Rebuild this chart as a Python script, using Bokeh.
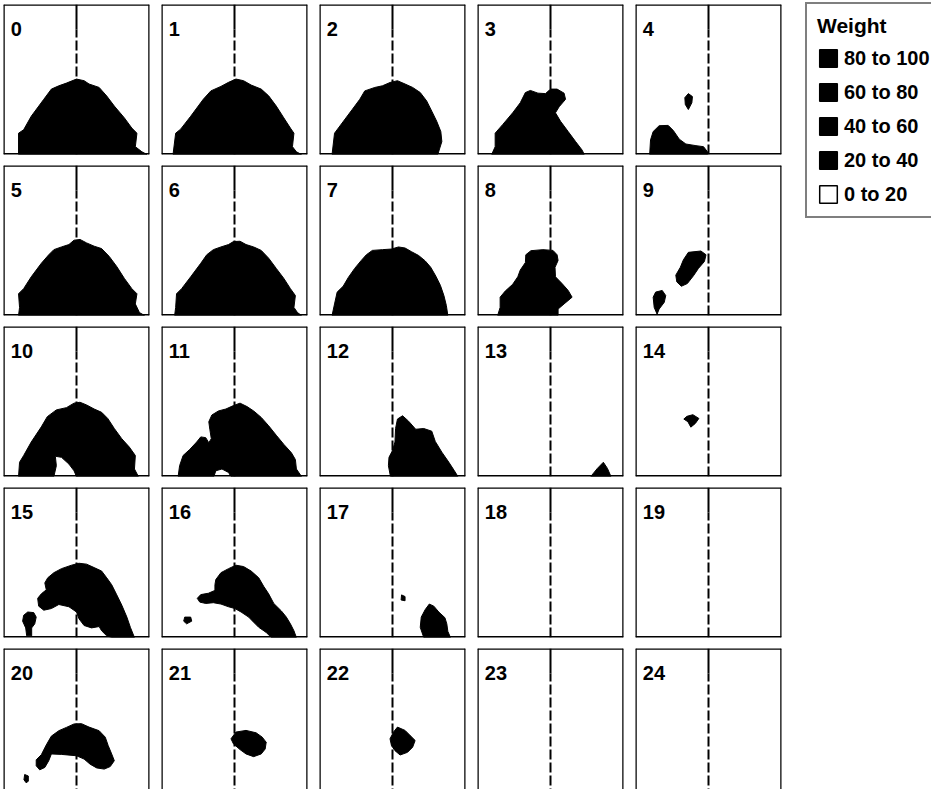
from bokeh.plotting import figure
from bokeh.layouts import row, column
from bokeh.models import Span, Legend, LegendItem, Range1d, Label
from bokeh.embed import file_html
from bokeh.resources import INLINE

FONT = "Liberation Sans"

# ---- data: outlines of the regions with weight >= 20, per panel,
# x in percent of panel width (centre line at 50), y in percent of panel height
P00 = [[(10.3, 0), (10.3, 14.2), (13.8, 16.5), (19, 25.5), (27.6, 36.8), (32.8, 43.6), (37.9, 45.8),
        (43.1, 47.6), (50, 50.3), (55.2, 49.2), (58.6, 47), (65.5, 44.7), (70.7, 39), (75.9, 32.3),
        (82.8, 24.4), (87.9, 17.6), (91.4, 14.2), (90.3, 5.2), (94.8, 1.8), (98.3, 0)]]
P01 = [[(7.9, 0), (9.7, 14.2), (13.1, 16.9), (20, 25.5), (28.6, 36.8), (33.8, 42.4), (40.7, 45.4),
        (45.9, 48.1), (51, 50.3), (56.2, 49.2), (61.4, 46.3), (68.3, 43.6), (73.4, 39.1), (78.6, 32.3),
        (83.8, 24.4), (88.3, 17.6), (90.7, 14.2), (89.7, 5.2), (92.4, 1.8), (95.9, 0)]]
P02 = [[(8.6, 0), (10.3, 14.2), (15.5, 21), (22.4, 30), (27.6, 36.8), (31, 42.4), (37.9, 44.7),
        (43.1, 45.8), (48.3, 48), (53.4, 49.2), (58.6, 47), (63.8, 44.7), (69, 41.3), (73.4, 35.7),
        (76.9, 28.9), (80.3, 22.1), (83.1, 15.3), (83.8, 8.6), (81, 0)]]
P03 = [[(9.7, 0), (12.1, 5.2), (12.1, 14.2), (17.2, 19.9), (24.1, 27.8), (29.3, 34.5), (32.8, 41.3),
        (36.2, 42.7), (41.4, 40.9), (46.6, 40.6), (50, 43.6), (54.5, 43.6), (59.3, 40.9), (60.3, 36.8),
        (55.9, 31.8), (53.4, 27.8), (56.9, 22.1), (62.1, 15.3), (67.2, 8.6), (71.7, 2.9), (73.1, 0)]]
P04 = [[(9.7, 0), (10.3, 9.7), (12.1, 15.3), (16.2, 19.2), (22.4, 19.4), (25.9, 16), (30, 10.2),
        (34.5, 7), (41.4, 5.9), (46.6, 5.2), (49.3, 1.8), (49.3, 0)],
       [(36.2, 40.6), (39, 38.6), (38.6, 34.5), (36.2, 30), (34.1, 33.4), (33.8, 37.9)]]
P05 = [[(10.3, 0), (11, 5.4), (10.3, 14.5), (13.8, 17.9), (19, 25.8), (25.9, 34.8), (31, 40.5),
        (34.5, 43.9), (39.7, 45.7), (44.8, 47.3), (48.3, 50.2), (52.4, 50.7), (56.9, 48.4), (62.1, 46.2),
        (67.2, 44.6), (72.4, 39.4), (77.6, 32.6), (82.8, 24.7), (87.9, 17.9), (91.4, 14.5), (90.3, 7.7),
        (93.1, 2), (96.6, 0)]]
P06 = [[(9, 0), (9.7, 5.4), (10.3, 14.5), (13.8, 17.9), (20, 25.8), (26.9, 34.8), (31, 40.5),
        (35.5, 43.9), (40.7, 45.7), (45.9, 47.3), (49.3, 49.3), (53.8, 49.5), (57.9, 47.3), (63.1, 45.7),
        (68.3, 43.4), (73.4, 38.2), (78.6, 31.4), (83.8, 24.7), (88.3, 17.9), (91.7, 13.3), (90.7, 5.4),
        (93.1, 2), (95.9, 0)]]
P07 = [[(8.6, 0), (10.3, 7.7), (12.1, 15.6), (16.2, 19.5), (19.7, 25.3), (24.1, 31.4), (28.6, 36.7),
        (32.1, 40.5), (36.2, 43.4), (43.1, 43.9), (49.3, 44.3), (54.1, 45.7), (58.6, 45), (63.1, 42.5),
        (67.9, 40), (72.4, 36.4), (76.2, 32.1), (79.7, 26.2), (82.8, 20.1), (85.2, 13.3), (86.9, 6.6),
        (87.9, 0)]]
P08 = [[(13.8, 0), (15.5, 5.4), (15.5, 12.2), (19, 16.3), (24.1, 20.8), (27.6, 25.8), (29.3, 30.3),
        (32.8, 35.3), (33.1, 40.5), (36.6, 43.2), (44.8, 43.9), (51.7, 43.4), (54.5, 40.5), (55.2, 36.7),
        (53.1, 32.1), (53.4, 25.8), (57.9, 21.3), (62.1, 16.7), (64.8, 12.2), (59.3, 7.7), (55.2, 4.3),
        (55.2, 0)]]
P09 = [[(36.2, 42.1), (44.8, 43), (48.3, 40.5), (47.2, 36), (43.1, 31.4), (39.7, 26.5), (35.5, 21.3),
        (31.4, 19.5), (28.3, 22.4), (27.6, 26.9), (30.7, 32.1), (32.8, 37.1)],
       [(13.8, 15.6), (18.3, 16.7), (20.7, 13.3), (19.7, 8.8), (16.2, 4.3), (14.8, 0.9), (12.8, 5.4),
        (12.1, 12.2)]]
P10 = [[(10.3, 0), (11, 9.5), (13.8, 14), (19, 23), (25.9, 33.1), (30, 39.9), (36.2, 44.4), (43.1, 45.9),
        (48.3, 48.9), (52.4, 49.5), (56.9, 47.7), (62.1, 45), (67.2, 42.8), (71.4, 38.7), (75.9, 32),
        (81, 25.2), (86.2, 19.6), (90.3, 14), (89.7, 5), (92.4, 0), (50, 0), (48.3, 3.8), (44.8, 8.3),
        (39.7, 12.8), (35.5, 13.5), (36.2, 7.2), (34.5, 0)]]
P11 = [[(11.4, 0), (12.4, 7.2), (14.8, 14), (19.3, 18), (24.1, 23), (26.9, 26.4), (30.3, 25.9),
        (32.4, 22.5), (34.1, 25.2), (33.1, 31.5), (32.4, 36.5), (34.5, 41), (39, 43.7), (44.1, 45),
        (49.3, 47.3), (53.8, 48.9), (58.6, 46.6), (63.1, 43.7), (68.3, 39.4), (73.4, 33.8), (78.6, 27.5),
        (83.8, 21.4), (89, 15.8), (91.7, 11.3), (92.4, 5), (95.9, 0), (47.6, 0), (45.9, 2.7), (41.4, 5),
        (37.2, 3.8), (35.9, 0)]]
P12 = [[(48.6, 0), (47.2, 7.2), (47.6, 12.8), (50, 17.3), (51.7, 23), (52.1, 32), (53.4, 38.3),
        (56.9, 40.5), (61, 36.9), (65.9, 31.5), (71.4, 32), (76.9, 30.2), (79.3, 23.4), (83.8, 16.2),
        (88.6, 9.5), (92.4, 3.8), (94.8, 0)]]
P13 = [[(77.6, 0), (82.1, 5.4), (86.2, 9.5), (89, 5.4), (91.4, 0)]]
P14 = [[(35.2, 40.1), (39.3, 41.2), (43.4, 38.7), (41, 35.4), (37.9, 32.9), (35.9, 36.5), (33.1, 38.3)]]
P15 = [[(89.7, 0), (86.9, 6.8), (84.5, 13.6), (81, 21.6), (77.6, 28.4), (74.1, 35.2), (70.7, 39.8),
        (67.2, 44.3), (62.1, 46.6), (56.9, 48.9), (51.7, 49.5), (46.6, 48.2), (39.7, 45.9), (34.5, 43.2),
        (30.3, 39.8), (28.3, 36.4), (29.3, 31.8), (25.9, 29.1), (23.4, 26.1), (24.1, 20.9), (27.6, 18.2),
        (32.8, 19.3), (37.9, 22), (44.8, 20.5), (50, 17), (51.7, 12.5), (55.2, 8), (60.3, 6.4),
        (65.5, 7.3), (67.2, 4.5), (70.7, 1.1), (74.1, 0)],
       [(13.8, 14.8), (16.6, 17), (20.7, 16.6), (22.4, 13.6), (21.4, 9.1), (19.3, 6.4), (19.3, 1.1),
        (15.9, 1.1), (15.2, 6.4), (13.1, 10.9)]]
P16 = [[(37.2, 38.6), (40.7, 43.2), (45.9, 45.9), (51, 48.2), (56.2, 47.3), (61.4, 44.3), (66.6, 39.8),
        (70, 34.1), (73.4, 29.1), (76.9, 22.7), (82.1, 17.7), (85.5, 13.6), (88.3, 9.1), (90.7, 4.5),
        (92.4, 0), (75.2, 0), (71.7, 3.4), (66.6, 6.8), (63.1, 10.2), (59.7, 13.6), (54.5, 17),
        (50.3, 19.3), (45.9, 20.5), (40.7, 22.3), (35.5, 23.2), (30.3, 22.7), (26.2, 23.6), (24.5, 26.1),
        (26.9, 28.6), (32.1, 29.5), (36.6, 31.4), (36.6, 35.2)],
       [(15.9, 13.6), (20, 13.6), (20.7, 10.9), (17.2, 9.1), (15.2, 10.9)]]
P17 = [[(71.4, 0), (69, 6.8), (69.7, 13.6), (72.4, 18.6), (75.2, 22.3), (78.3, 20.9), (81.7, 17),
        (85.9, 13.2), (87.2, 9.1), (87.9, 4.1), (89.7, 0)],
       [(56.2, 28.4), (58.6, 27.3), (58.6, 24.5), (55.9, 25)]]
P18 = []
P19 = []
P20 = [[(22.4, 25.8), (25.9, 29.2), (29.3, 35.7), (32.8, 41.6), (37.9, 45.2), (43.1, 47.4), (48.3, 49.7),
        (53.4, 49.9), (58.6, 47.6), (65.5, 45.2), (69.7, 40.9), (71.7, 35.3), (74.1, 29.7), (75.9, 25.2),
        (73.1, 21.3), (69, 19.6), (63.8, 20.4), (59.3, 22.9), (55.2, 26.3), (50, 28.5), (39.7, 29.4),
        (32.8, 29.7), (31, 25.2), (28.3, 20.7), (24.8, 19.1), (22.4, 21.8)],
       [(14.5, 16), (17, 15), (17, 11.5), (15.5, 10.5), (14, 12.5)]]
P21 = [[(51, 44.3), (57.9, 45.4), (64.8, 43.8), (69, 40.9), (71.7, 37.5), (71, 33), (68.3, 29.7),
        (63.1, 27.9), (57.9, 29.7), (53.8, 32.6), (49.3, 36.4), (47.6, 39.8)]]
P22 = [[(53.4, 47.6), (58.6, 45.4), (62.1, 42), (65.5, 38.7), (63.8, 34.2), (60.3, 30.8), (55.2, 29),
        (51.7, 31.9), (49.3, 35.3), (48.3, 39.8), (50.7, 44.3)]]
P23 = []
P24 = []

PANELS = [P00, P01, P02, P03, P04, P05, P06, P07, P08, P09, P10, P11, P12, P13, P14,
          P15, P16, P17, P18, P19, P20, P21, P22, P23, P24]
PANEL_LABELS = ["0", "1", "2", "3", "4", "5", "6", "7", "8", "9", "10", "11", "12",
                "13", "14", "15", "16", "17", "18", "19", "20", "21", "22", "23", "24"]

LEGEND_TITLE = "Weight"
LEGEND_LABELS = ["80 to 100", "60 to 80", "40 to 60", "20 to 40", "0 to 20"]
LEGEND_FILLS = ["black", "black", "black", "black", "white"]

# ---- layout / style
NCOL = 5
COL_W, ROW_H, LAST_ROW_H = 158, 161, 145
BORDER_T, BORDER_L, BORDER_R, BORDER_B = 4, 3, 9, 7
PX_PER_UNIT_Y = 1.5
MID = 50
SOLID_FROM = 83.3
INK = "black"

rows = []
cur = []
for idx, polys in enumerate(PANELS):
    r, c = divmod(idx, NCOL)
    last = r == 4
    h = LAST_ROW_H if last else ROW_H
    bb = 0 if last else BORDER_B
    frame_h = h - BORDER_T - bb
    y_start = 100 - frame_h / PX_PER_UNIT_Y
    p = figure(width=COL_W, height=h, x_range=Range1d(0, 100), y_range=Range1d(y_start, 100),
               toolbar_location=None, output_backend="svg",
               x_axis_type=None, y_axis_type=None, outline_line_color=None,
               min_border_left=BORDER_L, min_border_right=BORDER_R,
               min_border_top=BORDER_T, min_border_bottom=bb,
               background_fill_color="white", border_fill_color="white")
    # centre line: dashed lower part, solid upper part
    p.line([MID, MID], [0, SOLID_FROM], line_color=INK, line_width=2, line_dash="10 3")
    p.line([MID, MID], [SOLID_FROM, 100], line_color=INK, line_width=2)
    if polys:
        xs = [[pt[0] for pt in poly] for poly in polys]
        ys = [[pt[1] for pt in poly] for poly in polys]
        p.patches(xs, ys, fill_color=INK, line_color=INK, line_width=1)
    p.add_layout(Span(location=0, dimension="height", line_color=INK, line_width=2.5))
    p.add_layout(Span(location=100, dimension="height", line_color=INK, line_width=2.5))
    p.add_layout(Span(location=100, dimension="width", line_color=INK, line_width=2.5))
    if not last:
        p.add_layout(Span(location=0, dimension="width", line_color=INK, line_width=3))
    p.add_layout(Label(x=5, y=83.5, text=PANEL_LABELS[idx], text_font=FONT, text_font_size="20px",
                       text_font_style="bold", text_color=INK, text_baseline="alphabetic"))
    cur.append(p)
    if c == NCOL - 1:
        rows.append(row(*cur))
        cur = []

grid = column(*rows)

lf = figure(width=141, height=4 * ROW_H + LAST_ROW_H, toolbar_location=None, output_backend="svg",
            x_axis_type=None, y_axis_type=None, outline_line_color=None,
            x_range=Range1d(0, 1), y_range=Range1d(0, 1),
            min_border_left=13, min_border_right=0, min_border_top=0, min_border_bottom=0,
            background_fill_color="white", border_fill_color="white")
items = []
for lab, fill in zip(LEGEND_LABELS, LEGEND_FILLS):
    # legend-only swatch renderers, kept outside the visible range
    rr = lf.quad(left=[5], right=[6], top=[6], bottom=[5], fill_color=fill, line_color=INK,
                 line_width=1.5)
    items.append(LegendItem(label=lab, renderers=[rr]))
leg = Legend(items=items, title=LEGEND_TITLE, location="top_left", margin=2, padding=10,
             border_line_color=INK, border_line_width=2, background_fill_color="white",
             background_fill_alpha=1,
             title_text_font=FONT, title_text_font_size="21px", title_text_font_style="bold",
             title_text_color=INK, title_standoff=8,
             label_text_font=FONT, label_text_font_size="20px", label_text_font_style="bold",
             label_text_color=INK, glyph_width=22, glyph_height=22, label_height=24,
             label_standoff=5, spacing=10)
lf.add_layout(leg)

page = row(grid, lf)
open("out.html", "w").write(file_html(page, INLINE))
